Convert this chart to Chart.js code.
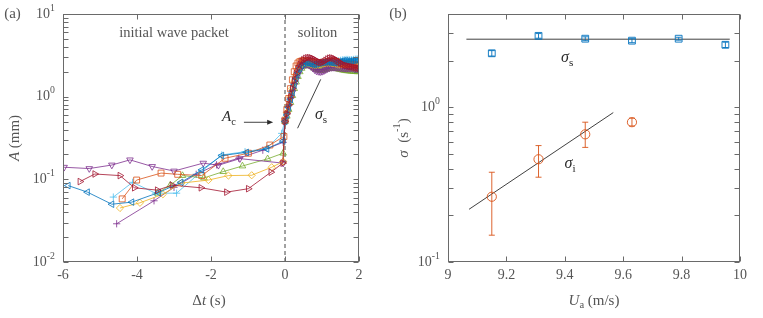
<!DOCTYPE html>
<html>
<head>
<meta charset="utf-8">
<script src="https://cdn.jsdelivr.net/npm/chart.js@4.4.0/dist/chart.umd.min.js"></script>
<style>
  html, body { margin: 0; padding: 0; background: #fff; }
  #wrap { position: relative; width: 763px; height: 318px; }
  #chartA { position: absolute; left: 0; top: 0; }
  #chartB { position: absolute; left: 385px; top: 0; }
</style>
</head>
<body>
<div id="wrap">
  <canvas id="chartA" width="380" height="318"></canvas>
  <canvas id="chartB" width="378" height="318"></canvas>
</div>
<script>
/* ------------------------------
 Panel (a) : amplitude A vs time shift
---------------------------------*/
var dtTicks = [-6, -4, -2, 0, 2];
var ampTicks = [0.01, 0.1, 1, 10];
var ampExp = ["-2", "-1", "0", "1"];
var ampMinor = [0.02,0.03,0.04,0.05,0.06,0.07,0.08,0.09,0.2,0.3,0.4,0.5,0.6,0.7,0.8,0.9,2,3,4,5,6,7,8,9];

// common time axis of the soliton stage
var solitonDt = [0,0.05,0.1,0.15,0.2,0.25,0.3,0.35,0.4,0.45,0.5,0.55,0.6,0.65,0.7,0.75,0.8,0.85,0.9,0.95,1,
  1.05,1.1,1.15,1.2,1.25,1.3,1.35,1.4,1.45,1.5,1.55,1.6,1.65,1.7,1.75,1.8,1.85,1.9,1.95,2];

var preDtBlue = [-5.86,-5.34,-4.68,-4.14,-3.42,-2.81,-2.25,-1.71,-1.04,-0.49,-0.05];
var preAmpBlue = [0.084,0.070,0.050,0.053,0.069,0.092,0.13,0.194,0.212,0.233,0.29];
var solAmpBlue = [0.5,0.6,0.74,0.92,1.12,1.38,1.65,1.95,2.2,2.38,2.5,2.55,2.55,2.52,2.48,2.45,2.45,2.48,2.52,2.55,2.58,
  2.6,2.62,2.62,2.6,2.58,2.56,2.56,2.58,2.62,2.66,2.7,2.72,2.72,2.7,2.7,2.72,2.74,2.76,2.78,2.78];

var preDtOrange = [-4.40,-4.01,-3.35,-2.90,-2.25,-1.62,-0.99,-0.41,-0.03];
var preAmpOrange = [0.058,0.098,0.119,0.115,0.111,0.18,0.207,0.26,0.33];
var solAmpOrange = [0.52,0.7,0.95,1.25,1.6,2.0,2.35,2.55,2.65,2.7,2.72,2.72,2.7,2.68,2.65,2.62,2.6,2.58,2.57,2.57,2.58,
  2.6,2.62,2.65,2.68,2.7,2.7,2.68,2.65,2.6,2.56,2.52,2.5,2.48,2.47,2.46,2.45,2.44,2.42,2.4,2.38];

var preDtYellow = [-4.46,-3.92,-3.3,-2.8,-2.07,-1.53,-0.9,-0.36,-0.05];
var preAmpYellow = [0.045,0.052,0.066,0.09,0.098,0.111,0.112,0.14,0.164];
var solAmpYellow = [0.52,0.64,0.8,1.0,1.25,1.55,1.85,2.1,2.3,2.45,2.52,2.55,2.55,2.52,2.48,2.44,2.42,2.42,2.44,2.46,2.5,
  2.52,2.55,2.56,2.56,2.55,2.52,2.5,2.48,2.46,2.45,2.45,2.46,2.48,2.5,2.5,2.48,2.45,2.42,2.4,2.38];

var preDtPurple = [-5.97,-5.29,-4.68,-4.19,-3.59,-3.0,-2.21,-1.8,-1.22,-0.05];
var preAmpPurple = [0.14,0.135,0.149,0.172,0.143,0.126,0.157,0.148,0.178,0.157];
var solAmpPurple = [0.52,0.62,0.76,0.93,1.13,1.37,1.62,1.88,2.1,2.28,2.4,2.45,2.45,2.4,2.32,2.22,2.12,2.05,2.02,2.0,2.02,
  2.06,2.12,2.18,2.22,2.25,2.26,2.26,2.25,2.24,2.22,2.22,2.2,2.2,2.2,2.2,2.2,2.2,2.2,2.2,2.2];

var preDtGreen = [-3.45,-3.1,-2.77,-2.19,-1.67,-1.15,-0.47,-0.05];
var preAmpGreen = [0.068,0.085,0.111,0.104,0.124,0.145,0.177,0.207];
var solAmpGreen = [0.5,0.58,0.7,0.85,1.03,1.25,1.5,1.75,2.0,2.2,2.33,2.4,2.42,2.4,2.35,2.28,2.2,2.14,2.1,2.08,2.08,
  2.1,2.14,2.18,2.2,2.22,2.22,2.2,2.18,2.15,2.12,2.1,2.08,2.06,2.05,2.04,2.03,2.02,2.01,2.0,2.0];

var preDtCyan = [-4.64,-4.12,-3.5,-2.93,-2.3,-1.71,-1.08,-0.49,-0.09];
var preAmpCyan = [0.061,0.092,0.068,0.068,0.12,0.197,0.216,0.237,0.36];
var solAmpCyan = [0.52,0.63,0.78,0.96,1.18,1.45,1.75,2.05,2.3,2.45,2.55,2.6,2.6,2.58,2.55,2.52,2.5,2.5,2.52,2.55,2.58,
  2.6,2.62,2.64,2.65,2.65,2.66,2.68,2.7,2.72,2.75,2.78,2.8,2.82,2.82,2.8,2.8,2.82,2.84,2.86,2.85];

var preDtRed = [-5.54,-5.14,-4.46,-4.07,-3.45,-3.05,-2.27,-1.58,-0.99,-0.38,-0.06];
var preAmpRed = [0.094,0.116,0.111,0.079,0.074,0.085,0.079,0.07,0.077,0.122,0.157];
var solAmpRed = [0.5,0.62,0.8,1.0,1.25,1.55,1.9,2.2,2.45,2.65,2.8,2.9,2.95,2.97,2.95,2.9,2.82,2.72,2.65,2.6,2.6,
  2.65,2.75,2.85,2.92,2.95,2.92,2.85,2.75,2.65,2.55,2.48,2.42,2.38,2.35,2.32,2.3,2.28,2.25,2.22,2.2];

var preDtPlum = [-4.55,-3.54,-3.0,-2.4,-1.85,-1.25,-0.6,-0.05];
var preAmpPlum = [0.029,0.055,0.08,0.115,0.15,0.18,0.225,0.28];
var solAmpPlum = [0.52,0.63,0.78,0.96,1.18,1.43,1.7,1.96,2.18,2.35,2.45,2.5,2.5,2.46,2.4,2.32,2.24,2.18,2.12,2.1,2.1,
  2.12,2.16,2.2,2.25,2.28,2.3,2.3,2.28,2.26,2.25,2.24,2.24,2.25,2.26,2.28,2.3,2.3,2.3,2.28,2.26];

// slope guide next to the rise
var slopeDt = [0.34, 0.965];
var slopeAmp = [0.415, 1.62];

/* ------------------------------
 Panel (b) : growth rates vs wind speed
---------------------------------*/
var uTicks = [9, 9.2, 9.4, 9.6, 9.8, 10];
var sigmaTicks = [0.1, 1];
var sigmaExp = ["-1", "0"];
var sigmaMinor = [0.2,0.3,0.4,0.5,0.6,0.7,0.8,0.9,2,3];

var uS = [9.15, 9.31, 9.47, 9.63, 9.79, 9.95];
var sigmaS = [2.23, 2.89, 2.77, 2.69, 2.77, 2.53];
var sigmaSErr = [0.09, 0.1, 0.08, 0.08, 0.06, 0.1];

var uI = [9.15, 9.31, 9.47, 9.63];
var sigmaI = [0.264, 0.461, 0.668, 0.80];
var sigmaILow = [0.149, 0.353, 0.55, 0.757];
var sigmaIHigh = [0.38, 0.565, 0.80, 0.85];

var fitSU = [9.063, 9.965], fitSSigma = [2.75, 2.75];
var fitIU = [9.072, 9.566], fitISigma = [0.219, 0.923];

/* ------------------------------
 helpers
---------------------------------*/
var serif = '"Liberation Serif", "DejaVu Serif", serif';
var ink = "#555";
var dark = "#2b2b2b";
var frameColor = "#6a6a6a";

function pts(xs, ys) {
  return xs.map(function (v, i) { return { x: v, y: ys[i] }; });
}

// draws text made of parts {t, i (italic), sub, sup}
function rich(ctx, x, y, parts, size, color, align, rot) {
  ctx.save();
  ctx.translate(x, y);
  if (rot) ctx.rotate(rot);
  var fontOf = function (p) {
    var s = (p.sub || p.sup) ? size * 0.7 : size;
    return (p.i ? "italic " : "") + s + "px " + serif;
  };
  var w = 0;
  parts.forEach(function (p) { ctx.font = fontOf(p); p.w = ctx.measureText(p.t).width; w += p.w; });
  var cx = align === "left" ? 0 : align === "right" ? -w : -w / 2;
  ctx.fillStyle = color;
  ctx.textBaseline = "middle";
  ctx.textAlign = "left";
  parts.forEach(function (p) {
    ctx.font = fontOf(p);
    var dy = p.sub ? size * 0.3 : p.sup ? -size * 0.42 : 0;
    ctx.fillText(p.t, cx, dy);
    cx += p.w;
  });
  ctx.restore();
}

function drawFrame(chart, xTicks, yTicks, yExp, yMinor) {
  var ctx = chart.ctx, a = chart.chartArea, sx = chart.scales.x, sy = chart.scales.y;
  var L = Math.round(a.left) + 0.5, R = Math.round(a.right) - 0.5;
  var T = Math.round(a.top) + 0.5, B = Math.round(a.bottom) - 0.5;
  ctx.save();
  ctx.strokeStyle = frameColor;
  ctx.lineWidth = 1;
  ctx.strokeRect(L, T, R - L, B - T);
  ctx.beginPath();
  xTicks.forEach(function (v) {
    var px = Math.round(sx.getPixelForValue(v)) + 0.5;
    ctx.moveTo(px, B); ctx.lineTo(px, B - 5);
    ctx.moveTo(px, T); ctx.lineTo(px, T + 5);
  });
  yTicks.concat(yMinor).forEach(function (v) {
    var py = Math.round(sy.getPixelForValue(v)) + 0.5;
    ctx.moveTo(L, py); ctx.lineTo(L + 5, py);
    ctx.moveTo(R, py); ctx.lineTo(R - 5, py);
  });
  ctx.stroke();
  ctx.restore();
  yTicks.forEach(function (v, i) {
    rich(ctx, a.left - 8, sy.getPixelForValue(v), [{ t: "10" }, { t: yExp[i], sup: true }], 14, ink, "right");
  });
}

function fixWidth(w) { return function (s) { s.width = w; }; }
function fixHeight(h) { return function (s) { s.height = h; }; }

function series(color, style, rot, radius, xs1, ys1, xs2, ys2) {
  return {
    data: pts(xs1, ys1).concat(pts(xs2, ys2)),
    showLine: true,
    borderColor: color,
    borderWidth: 0.8,
    pointStyle: style,
    pointRotation: rot,
    pointRadius: radius,
    pointBorderWidth: 0.8,
    pointBorderColor: color,
    pointBackgroundColor: "rgba(0,0,0,0)"
  };
}

/*------------------------------------
* Chart (a)
------------------------------------ */
var datasetsA = [
  series("#A2142F", "triangle", 90, 3.8, preDtRed, preAmpRed, solitonDt, solAmpRed),
  series("#0072BD", "triangle", -90, 3.8, preDtBlue, preAmpBlue, solitonDt, solAmpBlue),
  series("#D95319", "rect", 0, 4.2, preDtOrange, preAmpOrange, solitonDt, solAmpOrange),
  series("#EDB120", "rectRot", 0, 3.6, preDtYellow, preAmpYellow, solitonDt, solAmpYellow),
  series("#7E2F8E", "triangle", 180, 3.8, preDtPurple, preAmpPurple, solitonDt, solAmpPurple),
  series("#77AC30", "triangle", 0, 3.8, preDtGreen, preAmpGreen, solitonDt, solAmpGreen),
  series("#4DBEEE", "cross", 0, 3.6, preDtCyan, preAmpCyan, solitonDt, solAmpCyan),
  series("#7E2F8E", "cross", 0, 3.6, preDtPlum, preAmpPlum, solitonDt, solAmpPlum),
  { data: [{ x: 0, y: 0.01 }, { x: 0, y: 10 }], showLine: true, borderColor: "#444", borderWidth: 1,
    borderDash: [4, 3], pointRadius: 0 },
  { data: pts(slopeDt, slopeAmp), showLine: true, borderColor: dark, borderWidth: 0.9, pointRadius: 0 }
];

var framePluginA = {
  id: "frameA",
  afterDraw: function (chart) {
    var ctx = chart.ctx, sx = chart.scales.x, sy = chart.scales.y;
    drawFrame(chart, dtTicks, ampTicks, ampExp, ampMinor);
    rich(ctx, 12.5, 14, [{ t: "(a)" }], 15, ink, "center");
    rich(ctx, 15, 138, [{ t: "A", i: true }, { t: " (mm)" }], 15, ink, "center", -Math.PI / 2);
    rich(ctx, 209, 301, [{ t: "Δ" }, { t: "t", i: true }, { t: " (s)" }], 15, ink, "center");
    rich(ctx, sx.getPixelForValue(-3.0), sy.getPixelForValue(5.9), [{ t: "initial wave packet" }], 14.5, ink, "center");
    rich(ctx, sx.getPixelForValue(0.88), sy.getPixelForValue(5.9), [{ t: "soliton" }], 14.5, ink, "center");
    rich(ctx, sx.getPixelForValue(-1.33), sy.getPixelForValue(0.56), [{ t: "A", i: true }, { t: "c", sub: true }], 15, dark, "right");
    rich(ctx, sx.getPixelForValue(0.81), sy.getPixelForValue(0.6), [{ t: "σ", i: true }, { t: "s", sub: true }], 16, dark, "left");
    // arrow towards A_c
    var x0 = sx.getPixelForValue(-1.11), x1 = sx.getPixelForValue(-0.32), y0 = sy.getPixelForValue(0.49);
    ctx.save();
    ctx.strokeStyle = dark; ctx.fillStyle = dark; ctx.lineWidth = 0.9;
    ctx.beginPath(); ctx.moveTo(x0, y0); ctx.lineTo(x1 - 5, y0); ctx.stroke();
    ctx.beginPath(); ctx.moveTo(x1, y0); ctx.lineTo(x1 - 6, y0 - 2.5); ctx.lineTo(x1 - 6, y0 + 2.5); ctx.closePath(); ctx.fill();
    ctx.restore();
  }
};

new Chart(document.getElementById("chartA"), {
  type: "scatter",
  data: { datasets: datasetsA },
  options: {
    responsive: false,
    animation: false,
    events: [],
    layout: { padding: { left: 0, right: 21, top: 14, bottom: 0 } },
    plugins: { legend: { display: false }, tooltip: { enabled: false } },
    scales: {
      x: {
        type: "linear", min: -6, max: 2,
        grid: { display: false, drawTicks: false }, border: { display: false },
        afterBuildTicks: function (s) { s.ticks = dtTicks.map(function (v) { return { value: v }; }); },
        ticks: { color: ink, font: { family: serif, size: 14 }, padding: 5, maxRotation: 0, autoSkip: false },
        afterFit: fixHeight(56)
      },
      y: {
        type: "logarithmic", min: 0.01, max: 10,
        grid: { display: false, drawTicks: false }, border: { display: false },
        ticks: { display: false },
        afterFit: fixWidth(63)
      }
    }
  },
  plugins: [framePluginA]
});

/*------------------------------------
* Chart (b)
------------------------------------ */
var datasetsB = [
  { data: pts(uS, sigmaS), pointStyle: "rect", pointRadius: 4.8, pointBorderWidth: 0.9,
    pointBorderColor: "#0072BD", pointBackgroundColor: "rgba(0,0,0,0)" },
  { data: pts(uI, sigmaI), pointStyle: "circle", pointRadius: 4.6, pointBorderWidth: 0.9,
    pointBorderColor: "#D95319", pointBackgroundColor: "rgba(0,0,0,0)" },
  { data: pts(fitSU, fitSSigma), showLine: true, borderColor: dark, borderWidth: 0.9, pointRadius: 0 },
  { data: pts(fitIU, fitISigma), showLine: true, borderColor: dark, borderWidth: 0.9, pointRadius: 0 }
];

var framePluginB = {
  id: "frameB",
  afterDatasetsDraw: function (chart) {
    var ctx = chart.ctx, sx = chart.scales.x, sy = chart.scales.y;
    ctx.save();
    ctx.lineWidth = 0.9;
    ctx.strokeStyle = "#D95319";
    ctx.beginPath();
    uI.forEach(function (u, i) {
      var px = sx.getPixelForValue(u), lo = sy.getPixelForValue(sigmaILow[i]), hi = sy.getPixelForValue(sigmaIHigh[i]);
      ctx.moveTo(px, lo); ctx.lineTo(px, hi);
      ctx.moveTo(px - 3, lo); ctx.lineTo(px + 3, lo);
      ctx.moveTo(px - 3, hi); ctx.lineTo(px + 3, hi);
    });
    ctx.stroke();
    ctx.strokeStyle = "#0072BD";
    ctx.beginPath();
    uS.forEach(function (u, i) {
      var px = sx.getPixelForValue(u);
      var lo = sy.getPixelForValue(sigmaS[i] - sigmaSErr[i]), hi = sy.getPixelForValue(sigmaS[i] + sigmaSErr[i]);
      ctx.moveTo(px, lo); ctx.lineTo(px, hi);
      ctx.moveTo(px - 3, lo); ctx.lineTo(px + 3, lo);
      ctx.moveTo(px - 3, hi); ctx.lineTo(px + 3, hi);
    });
    ctx.stroke();
    ctx.restore();
  },
  afterDraw: function (chart) {
    var ctx = chart.ctx, sx = chart.scales.x, sy = chart.scales.y;
    drawFrame(chart, uTicks, sigmaTicks, sigmaExp, sigmaMinor);
    rich(ctx, 13, 14, [{ t: "(b)" }], 15, ink, "center");
    rich(ctx, 19, 138, [{ t: "σ", i: true }, { t: "  (s" }, { t: "-1", sup: true }, { t: ")" }], 15, ink, "center", -Math.PI / 2);
    rich(ctx, 209, 301, [{ t: "U", i: true }, { t: "a", sub: true }, { t: " (m/s)" }], 15, ink, "center");
    rich(ctx, sx.getPixelForValue(9.408), sy.getPixelForValue(2.08), [{ t: "σ", i: true }, { t: "s", sub: true }], 16, dark, "center");
    rich(ctx, sx.getPixelForValue(9.418), sy.getPixelForValue(0.43), [{ t: "σ", i: true }, { t: "i", sub: true }], 16, dark, "center");
  }
};

new Chart(document.getElementById("chartB"), {
  type: "scatter",
  data: { datasets: datasetsB },
  options: {
    responsive: false,
    animation: false,
    events: [],
    layout: { padding: { left: 0, right: 23, top: 14, bottom: 0 } },
    plugins: { legend: { display: false }, tooltip: { enabled: false } },
    scales: {
      x: {
        type: "linear", min: 9, max: 10,
        grid: { display: false, drawTicks: false }, border: { display: false },
        afterBuildTicks: function (s) { s.ticks = uTicks.map(function (v) { return { value: v }; }); },
        ticks: { color: ink, font: { family: serif, size: 14 }, padding: 5, maxRotation: 0, autoSkip: false,
          callback: function (v) { return String(Math.round(v * 10) / 10); } },
        afterFit: fixHeight(56)
      },
      y: {
        type: "logarithmic", min: 0.1, max: 4,
        grid: { display: false, drawTicks: false }, border: { display: false },
        ticks: { display: false },
        afterFit: fixWidth(63)
      }
    }
  },
  plugins: [framePluginB]
});
</script>
</body>
</html>
